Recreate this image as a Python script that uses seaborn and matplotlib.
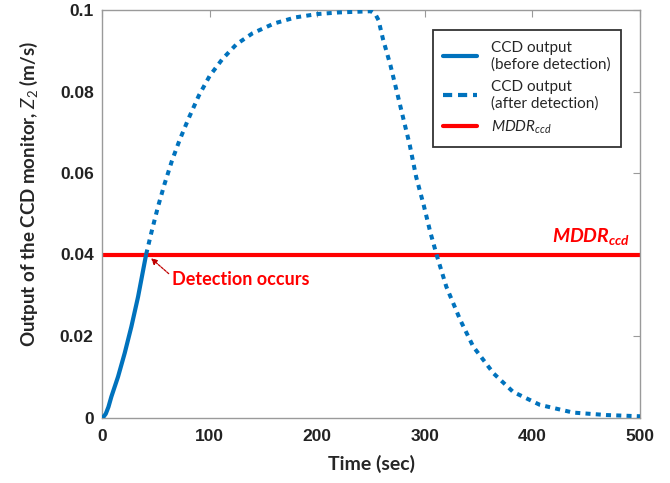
import matplotlib
matplotlib.use("Agg")
import matplotlib.pyplot as plt
from matplotlib.lines import Line2D
import seaborn as sns
import pandas as pd

# ---- data ----
t_before = [0, 1.5, 3.5, 6, 8.7, 14.9, 21.1, 27.3, 33.5, 41]
v_before = [0, 0.0002, 0.0009, 0.0026, 0.0051, 0.0100, 0.0158, 0.0223, 0.0296, 0.0400]

t_after = [41, 46, 52, 58, 65, 72, 80, 90, 100, 112, 125, 140, 160, 180, 200,
           220, 240, 250, 254, 257, 261, 268, 274, 280, 286, 292, 299, 305, 311,
           320, 333, 345, 364, 382, 407, 438, 469, 500]
v_after = [0.0400, 0.0455, 0.0517, 0.0572, 0.0630, 0.0680, 0.0731, 0.0790, 0.0838,
           0.0880, 0.0916, 0.0943, 0.0967, 0.0982, 0.0990, 0.0994, 0.0996, 0.0997,
           0.0990, 0.0975, 0.0930, 0.0865, 0.0800, 0.0734, 0.0669, 0.0590, 0.0521,
           0.0456, 0.0399, 0.0321, 0.0239, 0.0174, 0.0108, 0.0063, 0.0031, 0.0012,
           0.0006, 0.0003]

mddr = 0.04
x_ticks = [0, 100, 200, 300, 400, 500]
y_ticks = [0, 0.02, 0.04, 0.06, 0.08, 0.1]
y_ticklabels = ["0", "0.02", "0.04", "0.06", "0.08", "0.1"]

legend_labels = ["CCD output\n(before detection)", "CCD output\n(after detection)",
                 r"$MDDR_{ccd}$"]

# ---- style ----
sns.set_style("white")
plt.rcParams["font.family"] = ["Lato", "DejaVu Sans"]
plt.rcParams["mathtext.fontset"] = "custom"
plt.rcParams["mathtext.it"] = "Lato:italic"
plt.rcParams["mathtext.rm"] = "Lato"
plt.rcParams["mathtext.bf"] = "Lato:bold:italic"

blue = "#0072BD"
red = "#FF0000"
grey = "#9a9a9a"

fig = plt.figure(figsize=(6.7, 4.83), dpi=100)
ax = fig.add_axes([102 / 670, 1 - 417.5 / 483, (640 - 102) / 670, (417.5 - 10) / 483])

df_b = pd.DataFrame({"t": t_before, "v": v_before})
df_a = pd.DataFrame({"t": t_after, "v": v_after})

ax.axhline(mddr, color=red, lw=3.0, zorder=2)
sns.lineplot(data=df_b, x="t", y="v", ax=ax, color=blue, lw=3.0, zorder=3,
             solid_capstyle="butt")
sns.lineplot(data=df_a, x="t", y="v", ax=ax, color=blue, lw=2.9, zorder=3,
             linestyle=(0, (1.25, 1.3)), dash_capstyle="butt")

ax.set_xlim(0, 500)
ax.set_ylim(0, 0.1)
ax.set_xticks(x_ticks)
ax.set_yticks(y_ticks)
ax.set_yticklabels(y_ticklabels)
for lab in ax.get_xticklabels() + ax.get_yticklabels():
    lab.set_fontfamily("Liberation Sans")
    lab.set_fontweight("bold")
    lab.set_fontsize(12.5)
    lab.set_color("#222222")
ax.tick_params(direction="in", length=5, width=0.8, color=grey, top=True, right=True,
               pad=6)
ax.tick_params(axis="x", pad=8)
for s in ax.spines.values():
    s.set_color(grey)
    s.set_linewidth(1.0)

ax.set_xlabel("Time (sec)", fontsize=14, fontweight="bold", labelpad=8)
ax.set_ylabel(r"Output of the CCD monitor, $Z_2$ (m/s)", fontsize=13.5,
              fontweight="bold")
ax.yaxis.set_label_coords(-0.115, 0.548)

# annotations
ax.text(490.7, 0.0443, r"$\mathbf{MDDR}_{\mathbf{ccd}}$", color=red, fontsize=14,
        ha="right", va="center")
ax.text(65, 0.0338, "Detection occurs", color=red, fontsize=13, fontweight="bold",
        ha="left", va="center")
ax.annotate("", xy=(45.5, 0.0391), xytext=(62, 0.0353),
            arrowprops=dict(arrowstyle="-|>", color="#c00000", lw=0.9,
                            linestyle=(0, (2, 1)), mutation_scale=9,
                            shrinkA=0, shrinkB=0))

handles = [
    Line2D([], [], color=blue, lw=3),
    Line2D([], [], color=blue, lw=3, linestyle=(0, (2.2, 1.4))),
    Line2D([], [], color=red, lw=3),
]
leg = ax.legend(handles, legend_labels, loc="upper right",
                bbox_to_anchor=((621 - 102) / 538, 1 - (30 - 10) / 407.5),
                fontsize=11, frameon=True, fancybox=False, handlelength=2.2,
                handletextpad=0.9, labelspacing=0.55, borderpad=0.7,
                borderaxespad=0)
leg.get_frame().set_edgecolor("black")
leg.get_frame().set_linewidth(1.3)

fig.savefig("out.png", dpi=100)
